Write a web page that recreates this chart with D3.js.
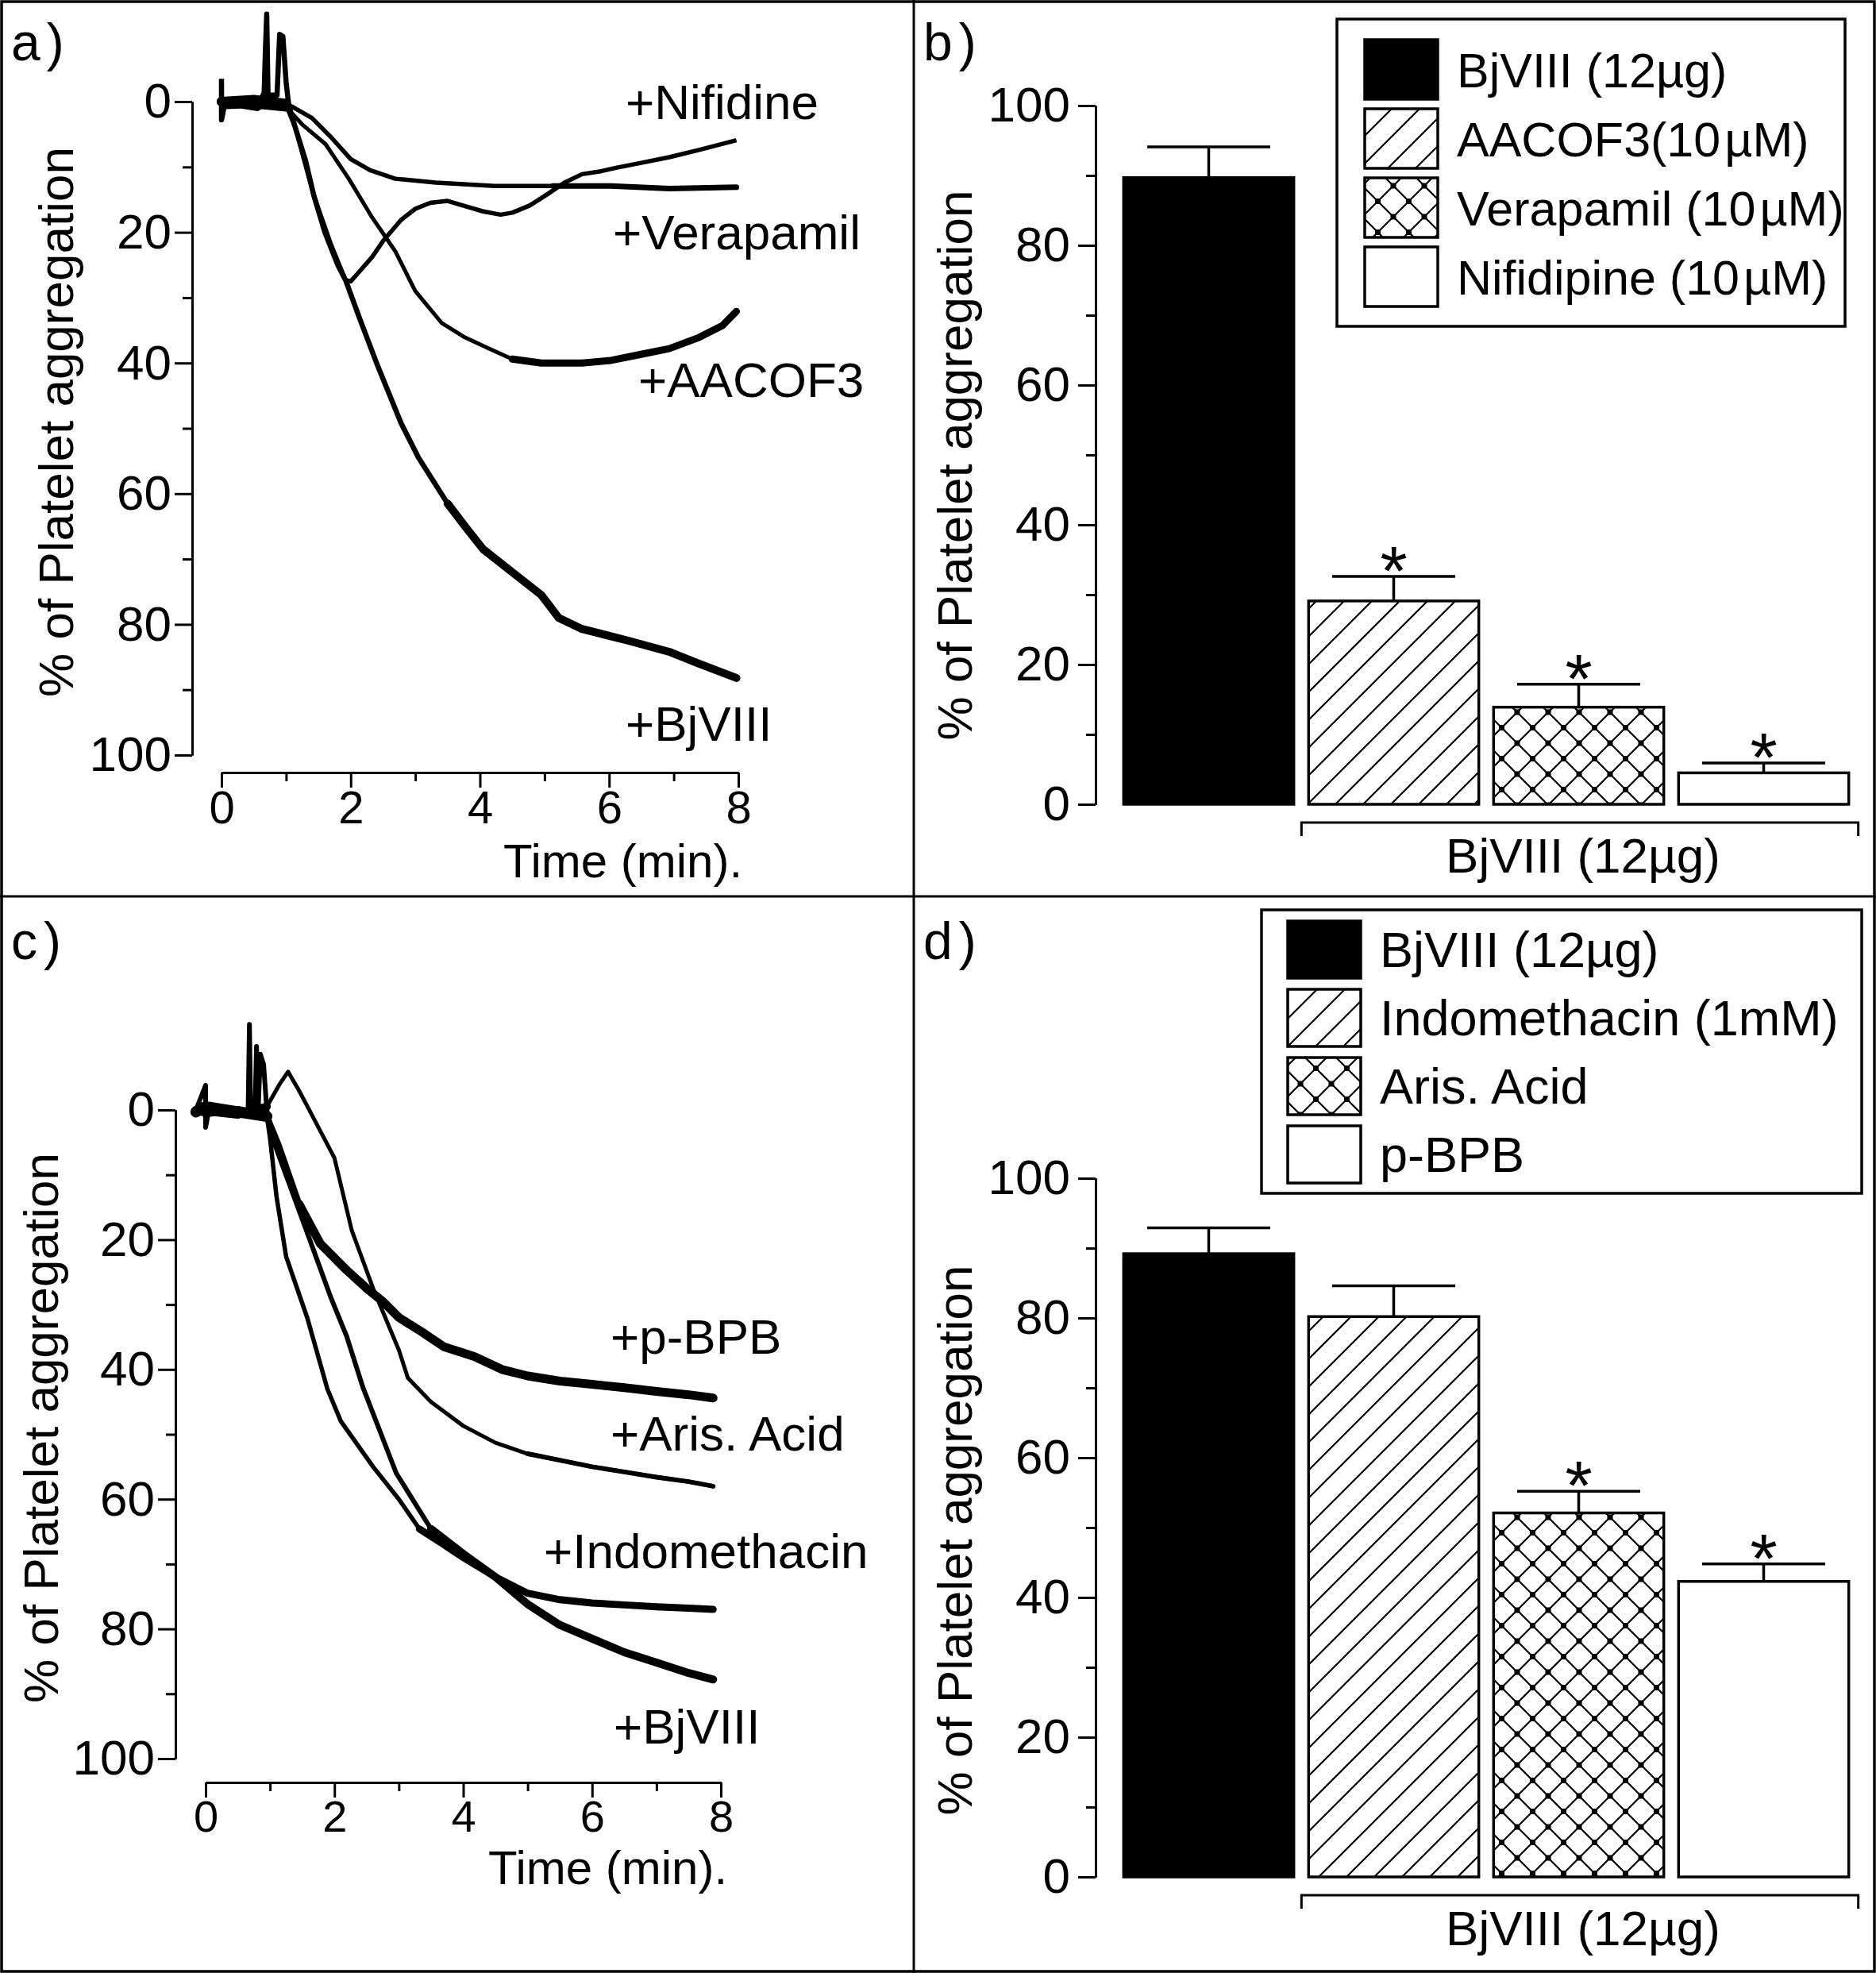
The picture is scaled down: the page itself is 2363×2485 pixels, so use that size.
<!DOCTYPE html>
<html lang="en">
<head>
<meta charset="utf-8">
<title>Platelet aggregation - BjVIII</title>
<script src="https://cdnjs.cloudflare.com/ajax/libs/d3/7.8.5/d3.min.js"></script>
<style>
body { margin: 0; background: #fff; }
svg text { font-family: "Liberation Sans", Arial, sans-serif; fill: #000; }
</style>
</head>
<body>
<script>
// ---- data ----
var timeTicks = [0, 2, 4, 6, 8];
var timeMinor = [1, 3, 5, 7];
var pctTicks = [0, 20, 40, 60, 80, 100];
var pctMinor = [10, 30, 50, 70, 90];

// panel a: aggregation traces, [time (min), % aggregation]
var a_bjviii = [[0,-3.5],[0,2.8],[0.05,0.3],[0.3,0.2],[0.55,0.6],[0.66,-1.3],[0.68,-8],[0.7,-13.4],[0.72,-1],[0.86,-1],[0.9,-10.3],[0.95,-10],[1.0,-3],[1.04,0.5],
  [1.14,3.9],[1.3,9],[1.43,14.4],[1.6,20],[1.8,25],[1.92,27.3],[2.15,33.5],[2.42,40.5],[2.78,49.2],[3.05,54.5],[3.5,61.5],[3.77,65],
  [4.05,68.5],[4.5,72],[4.95,75.5],[5.22,79],[5.58,80.7],[6.3,82.5],[6.93,84.2],[7.39,86],[7.97,88.2]];
var a_aacof3 = [[0,0],[0.5,0.3],[1.0,0.8],[1.25,3.5],[1.61,6.5],[1.97,11.8],[2.33,17.7],[2.69,22.9],[3.0,29],[3.41,33.9],[3.77,36.1],
  [4.14,37.8],[4.5,39.4],[4.95,40],[5.58,40],[6.03,39.6],[6.48,38.7],[6.93,37.8],[7.39,36.1],[7.75,34.3],[7.97,32.1]];
var a_verapamil = [[0,0],[0.5,-0.3],[1.0,0.3],[1.1,0.8],[1.4,2.5],[1.7,5.5],[2.0,8.8],[2.3,10.5],[2.69,11.8],[3.32,12.4],[4.23,12.9],
  [5.13,12.9],[6.03,12.9],[6.93,13.3],[7.97,13.1]];
var a_nifidine = [[0,0],[0.5,0.2],[1.0,0.5],[1.14,3.9],[1.43,14.4],[1.7,22],[1.92,27.3],[2.0,27.5],[2.1,26.4],[2.33,23.8],[2.51,21.2],
  [2.78,18.1],[3.0,16.4],[3.23,15.5],[3.5,15.2],[3.77,16],[4.05,16.8],[4.32,17.3],[4.5,17],[4.77,15.9],[5.04,14.2],[5.31,12.4],
  [5.58,11.1],[5.85,10.7],[6.12,10.1],[6.48,9.4],[6.93,8.5],[7.39,7.4],[7.97,5.9]];
var a_labels = ["+Nifidine", "+Verapamil", "+AACOF3", "+BjVIII"];

// panel c: aggregation traces
var c_pbpb = [[-0.15,0.3],[0,-0.5],[0.5,0.3],[0.95,1],[1.12,5.1],[1.45,14.5],[1.78,20.6],[2.19,24.7],[2.5,27.5],[2.76,29.6],[3.0,32],
  [3.34,34.1],[3.7,36.5],[4.17,38],[4.6,40],[5.0,41],[5.5,41.8],[6.0,42.3],[6.5,42.8],[7.0,43.4],[7.5,43.9],[7.88,44.4]];
var c_aris = [[-0.15,0],[0.5,0.5],[0.95,-0.5],[1.15,-4],[1.28,-5.9],[1.45,-3],[1.62,0.2],[2.0,7.4],[2.27,18.6],[2.6,27.5],[3.0,37],
  [3.14,41.3],[3.5,45],[4.0,48.7],[4.5,51.3],[5.0,53],[5.5,54],[6.0,55],[6.5,55.8],[7.0,56.6],[7.5,57.3],[7.88,58]];
var c_indo = [[-0.15,0],[0,0.5],[0.5,0],[0.95,1],[1.0,4.3],[1.1,13.3],[1.25,22.6],[1.58,32.1],[1.89,43],[2.1,48],[2.6,55],[3.0,60],
  [3.32,64.6],[3.7,67],[4.0,69],[4.5,72],[5.0,74.5],[5.5,75.5],[6.0,76],[6.5,76.3],[7.0,76.6],[7.5,76.8],[7.88,77]];
var c_bjviii = [[-0.15,0],[0,-3.8],[0,2.7],[0.05,0],[0.5,0.5],[0.66,0],[0.68,-13.2],[0.7,0],[0.77,-1],[0.79,-9.8],[0.82,-1],[0.85,-8.6],
  [0.9,-7],[0.95,0],[1.08,5.5],[1.28,10.9],[1.58,19],[1.94,28.8],[2.19,34.9],[2.44,42.7],[2.96,56],[3.5,64.6],[4.05,68.8],[4.5,72],
  [5.0,76.2],[5.5,79.4],[6.0,81.5],[6.5,83.6],[7.0,85.2],[7.5,86.8],[7.88,87.8]];
var c_labels = ["+p-BPB", "+Aris. Acid", "+Indomethacin", "+BjVIII"];

// panel b: bar means and SEM
var b_cats = ["BjVIII (12µg)", "AACOF3(10\u200aµM)", "Verapamil (10\u200aµM)", "Nifidipine (10\u200aµM)"];
var b_means = [89.7, 29.1, 13.9, 4.5];
var b_errs = [4.4, 3.5, 3.3, 1.4];
var b_sig = [false, true, true, true];

// panel d
var d_cats = ["BjVIII (12µg)", "Indomethacin (1mM)", "Aris. Acid", "p-BPB"];
var d_means = [89.2, 80.2, 52.1, 42.3];
var d_errs = [3.7, 4.4, 3.1, 2.5];
var d_sig = [false, false, true, true];

var groupLabel = "BjVIII (12µg)";
var yTitle = "% of Platelet aggregation";
var xTitle = "Time (min).";

// ---- drawing ----
var W = 2363, H = 2485;
var FS = 62;
var fills = ["#000", "url(#diag)", "url(#cross)", "#fff"];

var svg = d3.select("body").append("svg")
  .attr("width", W).attr("height", H);

var defs = svg.append("defs");
var diag = defs.append("pattern").attr("id", "diag")
  .attr("patternUnits", "userSpaceOnUse").attr("width", 35).attr("height", 35);
diag.append("rect").attr("width", 35).attr("height", 35).attr("fill", "#fff");
diag.append("path").attr("d", "M0,35L35,0M-5,5L5,-5M30,40L40,30")
  .attr("stroke", "#000").attr("stroke-width", 2.2);
var cross = defs.append("pattern").attr("id", "cross")
  .attr("patternUnits", "userSpaceOnUse").attr("width", 39).attr("height", 39);
cross.append("rect").attr("width", 39).attr("height", 39).attr("fill", "#fff");
cross.append("path").attr("d", "M0,39L39,0M0,0L39,39")
  .attr("stroke", "#000").attr("stroke-width", 2.2);
[[19.5,19.5],[0,0],[39,0],[0,39],[39,39]].forEach(function(p) {
  cross.append("rect").attr("x", p[0]-3.5).attr("y", p[1]-3.5).attr("width", 7).attr("height", 7).attr("fill", "#000");
});

// frame and dividers
svg.append("rect").attr("x", 2).attr("y", 2).attr("width", W-4).attr("height", H-4)
  .attr("fill", "none").attr("stroke", "#000").attr("stroke-width", 3.5);
svg.append("line").attr("x1", 1151).attr("x2", 1151).attr("y1", 0).attr("y2", H)
  .attr("stroke", "#000").attr("stroke-width", 3);
svg.append("line").attr("x1", 0).attr("x2", W).attr("y1", 1129).attr("y2", 1129)
  .attr("stroke", "#000").attr("stroke-width", 3);

function styleAxis(g, fs) {
  g.selectAll("path, line").attr("stroke", "#000").attr("stroke-width", 3);
  g.attr("font-size", fs || FS).attr("font-family", null);
  g.selectAll("text").attr("fill", "#000");
}

function yAxis(y, ax, pad) {
  var g1 = svg.append("g").attr("transform", "translate(" + ax + ",0)")
    .call(d3.axisLeft(y).tickValues(pctMinor).tickSize(12).tickSizeOuter(0).tickFormat(""));
  var g2 = svg.append("g").attr("transform", "translate(" + ax + ",0)")
    .call(d3.axisLeft(y).tickValues(pctTicks).tickSize(22).tickSizeOuter(0).tickPadding(pad));
  styleAxis(g1); styleAxis(g2);
}

function rotTitle(x, y) {
  svg.append("text").attr("transform", "translate(" + x + "," + y + ") rotate(-90)")
    .attr("text-anchor", "middle").attr("font-size", FS).text(yTitle);
}

function panelLetter(t, x, y) {
  svg.append("text").attr("x", x).attr("y", y).attr("font-size", 66)
    .attr("letter-spacing", 8).text(t);
}

function tracePanel(cfg) {
  var x = d3.scaleLinear().domain([0, 8]).range([cfg.x0, cfg.x1]);
  var y = d3.scaleLinear().domain([0, 100]).range([cfg.yTop, cfg.yBot]);
  yAxis(y, cfg.ax, 4);

  var gx1 = svg.append("g").attr("transform", "translate(0," + cfg.xAxisY + ")")
    .call(d3.axisBottom(x).tickValues(timeMinor).tickSize(11).tickSizeOuter(0).tickFormat(""));
  var gx2 = svg.append("g").attr("transform", "translate(0," + cfg.xAxisY + ")")
    .call(d3.axisBottom(x).tickValues(timeTicks).tickSize(19).tickSizeOuter(0).tickPadding(cfg.tickPad));
  styleAxis(gx1); styleAxis(gx2, cfg.tickFs);

  var line = d3.line().x(function(d) { return x(d[0]); }).y(function(d) { return y(d[1]); });
  cfg.series.forEach(function(s) {
    svg.append("path").datum(s.data).attr("d", line)
      .attr("fill", "none").attr("stroke", "#000")
      .attr("stroke-width", s.w).attr("stroke-linejoin", "round");
    // noisy stretches of the recording drawn as a thicker band
    s.bands.forEach(function(b) {
      var part = s.data.filter(function(d) { return d[0] >= b[0] && d[0] <= b[1]; });
      svg.append("path").datum(part).attr("d", line)
        .attr("fill", "none").attr("stroke", "#000")
        .attr("stroke-width", b[2]).attr("stroke-linejoin", "round")
        .attr("stroke-linecap", "round");
    });
  });

  cfg.labels.forEach(function(t, i) {
    svg.append("text").attr("x", cfg.labelPos[i][0]).attr("y", cfg.labelPos[i][1])
      .attr("font-size", FS).text(t);
  });
  svg.append("text").attr("x", cfg.titlePos[0]).attr("y", cfg.titlePos[1])
    .attr("font-size", 60).text(xTitle);
  rotTitle(cfg.yTitleX, (cfg.yTop + cfg.yBot) / 2 - 8);
}

function barPanel(cfg) {
  var x = d3.scaleBand().domain(cfg.cats).range([1406, 2338]).paddingInner(0.08).paddingOuter(0.04);
  var y = d3.scaleLinear().domain([0, 100]).range([cfg.y0, cfg.y100]);
  yAxis(y, 1380, 10);

  var rows = cfg.cats.map(function(c, i) {
    return { cat: c, mean: cfg.means[i], err: cfg.errs[i], sig: cfg.sig[i], fill: fills[i] };
  });

  var capW = 155;
  rows.forEach(function(d) {
    var cx = x(d.cat) + x.bandwidth() / 2;
    svg.append("line").attr("x1", cx).attr("x2", cx)
      .attr("y1", y(d.mean)).attr("y2", y(d.mean + d.err))
      .attr("stroke", "#000").attr("stroke-width", 3.5);
    svg.append("line").attr("x1", cx - capW / 2).attr("x2", cx + capW / 2)
      .attr("y1", y(d.mean + d.err)).attr("y2", y(d.mean + d.err))
      .attr("stroke", "#000").attr("stroke-width", 3.5);
    if (d.sig) {
      var af = 88;
      svg.append("text").attr("x", cx).attr("y", y(d.mean + d.err) - 27 + 0.57 * af)
        .attr("text-anchor", "middle").attr("font-size", af).text("*");
    }
  });

  svg.selectAll(null).data(rows).enter().append("rect")
    .attr("x", function(d) { return x(d.cat); })
    .attr("width", x.bandwidth())
    .attr("y", function(d) { return y(d.mean); })
    .attr("height", function(d) { return y(0) - y(d.mean); })
    .attr("fill", function(d) { return d.fill; })
    .attr("stroke", "#000").attr("stroke-width", 3.5);

  // bracket under the treated groups
  var bx0 = x(cfg.cats[1]) - 9, bx1 = x(cfg.cats[3]) + x.bandwidth() + 12;
  var by = cfg.y0 + 23;
  svg.append("path").attr("d", "M" + bx0 + "," + (by + 17) + "V" + by + "H" + bx1 + "V" + (by + 17))
    .attr("fill", "none").attr("stroke", "#000").attr("stroke-width", 3);
  svg.append("text").attr("x", (bx0 + bx1) / 2 + 4).attr("y", by + 63)
    .attr("text-anchor", "middle").attr("font-size", FS).text(groupLabel);

  // legend
  var L = cfg.legend;
  svg.append("rect").attr("x", L.x).attr("y", L.y).attr("width", L.w).attr("height", L.h)
    .attr("fill", "#fff").attr("stroke", "#000").attr("stroke-width", 3.5);
  rows.forEach(function(d, i) {
    var ry = L.rowY + i * L.step;
    svg.append("rect").attr("x", L.sx).attr("y", ry).attr("width", 92).attr("height", L.sh)
      .attr("fill", d.fill).attr("stroke", "#000").attr("stroke-width", 3.5);
    svg.append("text").attr("x", L.sx + 116).attr("y", ry + L.sh / 2 + 22)
      .attr("font-size", L.fs).text(d.cat);
  });

  rotTitle(1224, cfg.yTitleY);
}

// panel a
tracePanel({
  x0: 279, x1: 930, yTop: 128, yBot: 951, ax: 242, xAxisY: 973,
  tickFs: 58, tickPad: 4,
  series: [
    { data: a_verapamil, w: 5.5, bands: [[0, 1, 12], [5, 8, 7]] },
    { data: a_aacof3, w: 5, bands: [[0, 1, 12], [4.5, 8, 9]] },
    { data: a_nifidine, w: 5.5, bands: [[0, 1, 10]] },
    { data: a_bjviii, w: 6.5, bands: [[0.02, 0.65, 14], [3.5, 8, 10]] }
  ],
  labels: a_labels,
  labelPos: [[788, 150], [772, 314], [804, 500], [788, 933]],
  titlePos: [634, 1105],
  yTitleX: 92
});
panelLetter("a)", 14, 76);

// panel c
tracePanel({
  x0: 259, x1: 908, yTop: 1398, yBot: 2215, ax: 221, xAxisY: 2245,
  tickFs: 56, tickPad: 3,
  series: [
    { data: c_aris, w: 5, bands: [[-0.2, 0.95, 10], [5, 8, 6]] },
    { data: c_pbpb, w: 8, bands: [[-0.2, 0.95, 14], [1.4, 8, 11]] },
    { data: c_indo, w: 5.5, bands: [[-0.2, 0.95, 10], [3.3, 8, 9]] },
    { data: c_bjviii, w: 6, bands: [[0.05, 0.65, 14], [3.3, 8, 10]] }
  ],
  labels: c_labels,
  labelPos: [[769, 1705], [769, 1827], [685, 1975], [773, 2196]],
  titlePos: [615, 2373],
  yTitleX: 73
});
panelLetter("c)", 14, 1208);

// panel b
barPanel({
  cats: b_cats, means: b_means, errs: b_errs, sig: b_sig,
  y0: 1013, y100: 133,
  legend: { x: 1684, y: 24, w: 640, h: 387, sx: 1719, rowY: 50, step: 87, sh: 75, fs: 61 },
  yTitleY: 586
});
panelLetter("b)", 1163, 76);

// panel d
barPanel({
  cats: d_cats, means: d_means, errs: d_errs, sig: d_sig,
  y0: 2364, y100: 1484,
  legend: { x: 1589, y: 1146, w: 756, h: 357, sx: 1622, rowY: 1160, step: 86, sh: 72, fs: 63 },
  yTitleY: 1940
});
panelLetter("d)", 1163, 1208);
</script>
</body>
</html>
